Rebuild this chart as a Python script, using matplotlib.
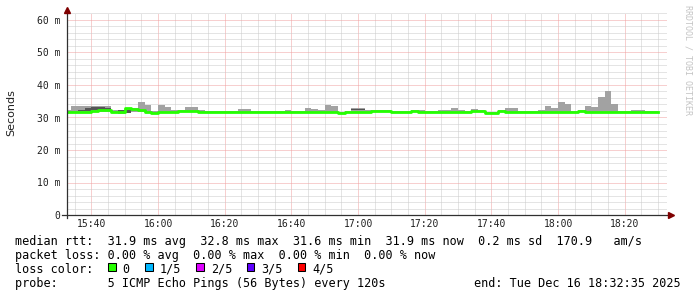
import numpy as np
import matplotlib.pyplot as plt
from matplotlib.patches import Rectangle
from matplotlib.ticker import FixedLocator, MultipleLocator

# --- data (2 min RRD steps starting 15:32) ---
first_bin = "15:32"
step_min = 2
view_start = "15:32:35"
view_end = "18:32:35"

median = [31.6, 31.6, 31.7, 31.8, 32.1, 32.2, 32.3, 31.8, 31.6, 32.8,
          32.7, 32.4, 31.7, 31.5, 31.6, 31.6, 31.8, 31.9, 32.1, 32.1,
          31.8, 31.7, 31.6, 31.6, 31.6, 31.6, 31.6, 31.6, 31.6, 31.6,
          31.6, 31.6, 31.6, 31.6, 31.6, 31.7, 31.7, 31.7, 31.6, 31.7,
          31.7, 31.5, 31.6, 31.7, 31.7, 31.8, 32.0, 32.0, 32.0, 31.7,
          31.7, 31.7, 32.0, 31.8, 31.7, 31.7, 31.8, 31.8, 31.8, 31.8,
          31.7, 32.0, 32.0, 31.5, 31.5, 32.0, 31.8, 31.8, 31.8, 31.8,
          31.8, 31.8, 31.8, 31.8, 31.8, 31.8, 31.8, 32.1, 31.8, 31.8,
          31.8, 31.8, 31.8, 31.8, 31.8, 31.8, 31.8, 31.8, 31.8]

smoke_hi = [32.3, 33.5, 33.5, 33.5, 33.5, 33.5, 33.5, 32.3, 32.3, 33.0,
            32.9, 34.9, 33.8, 31.9, 33.8, 33.2, 32.3, 32.3, 33.2, 33.2,
            32.2, 31.9, 31.9, 32.0, 31.9, 31.9, 32.6, 32.5, 31.9, 31.9,
            31.9, 32.1, 32.1, 32.3, 31.9, 32.1, 33.0, 32.6, 32.3, 34.0,
            33.5, 31.8, 32.0, 33.0, 33.0, 32.3, 32.3, 32.3, 32.2, 31.9,
            31.9, 31.9, 32.3, 32.3, 31.9, 31.9, 32.3, 32.3, 33.0, 32.3,
            31.9, 32.6, 32.2, 31.7, 31.7, 32.2, 33.0, 33.0, 32.0, 32.0,
            32.0, 32.4, 33.5, 33.0, 34.9, 34.2, 32.0, 32.3, 33.5, 33.2,
            36.3, 38.2, 34.2, 32.0, 32.0, 32.4, 32.4, 32.0, 32.0]

smoke_lo = [31.4, 31.4, 31.4, 31.5, 31.6, 31.7, 31.8, 31.5, 31.0, 31.3,
            31.8, 31.7, 31.5, 31.3, 31.4, 31.4, 31.5, 31.6, 31.7, 31.7,
            31.5, 31.4, 31.4, 31.4, 31.4, 31.4, 31.4, 31.4, 31.4, 31.4,
            31.4, 31.4, 31.4, 31.4, 31.4, 31.4, 31.4, 31.4, 31.4, 31.4,
            31.4, 31.3, 31.4, 31.4, 31.4, 31.5, 31.7, 31.7, 31.7, 31.5,
            31.5, 31.5, 31.7, 31.5, 31.5, 31.5, 31.5, 31.5, 31.5, 31.5,
            31.5, 31.7, 31.7, 31.3, 31.3, 31.7, 31.6, 31.6, 31.6, 31.6,
            31.6, 31.6, 31.6, 31.6, 31.6, 31.6, 31.6, 31.8, 31.6, 31.6,
            31.6, 31.6, 31.6, 31.6, 31.6, 31.6, 31.6, 31.6, 31.6]

# darker inner smoke, only a few steps
dark_bins = [2, 3, 4, 5, 6, 8, 9, 43, 44, 71]
dark_lo = [31.9, 31.9, 32.2, 32.3, 32.4, 31.7, 31.4, 32.3, 32.3, 32.2]
dark_hi = [32.2, 32.8, 33.3, 33.3, 32.8, 32.3, 32.4, 32.7, 32.7, 32.4]

x_tick_labels = ["15:40", "16:00", "16:20", "16:40", "17:00", "17:20",
                 "17:40", "18:00", "18:20"]
y_ticks = [0, 10, 20, 30, 40, 50, 60]
y_tick_labels = ["0", "10 m", "20 m", "30 m", "40 m", "50 m", "60 m"]

legend_lines = [
    "median rtt:  31.9 ms avg  32.8 ms max  31.6 ms min  31.9 ms now  0.2 ms sd  170.9   am/s",
    "packet loss: 0.00 % avg  0.00 % max  0.00 % min  0.00 % now",
    "loss color:",
    "probe:       5 ICMP Echo Pings (56 Bytes) every 120s",
]
loss_labels = ["0", "1/5", "2/5", "3/5", "4/5"]
loss_colors = ["#26ff00", "#00b8ff", "#dd00ff", "#5e00ff", "#ff0000"]
end_text = "end: Tue Dec 16 18:32:35 2025"


def to_min(s):
    p = [int(v) for v in s.split(":")]
    m = p[0] * 60 + p[1] + (p[2] / 60 if len(p) > 2 else 0)
    h0, m0 = [int(v) for v in first_bin.split(":")]
    return m - (h0 * 60 + m0)


W, H = 697, 297
MONO = "DejaVu Sans Mono"

fig = plt.figure(figsize=(W / 100, H / 100), dpi=100)
fig.patch.set_facecolor("white")

# plot area in pixels
px_l, px_r, px_b, px_t = 66.7, 666.7, 215.0, 12.7
ax = fig.add_axes([px_l / W, 1 - px_b / H, (px_r - px_l) / W, (px_b - px_t) / H])
ax.set_facecolor("white")

n = len(median)
edges = np.arange(n + 1) * step_min

ax.fill_between(edges, np.append(smoke_lo, smoke_lo[-1]),
                np.append(smoke_hi, smoke_hi[-1]),
                step="post", color="#a2a2a2", lw=0, zorder=2)

db = np.array(dark_bins)
ax.bar(edges[db], np.array(dark_hi) - np.array(dark_lo), bottom=dark_lo,
       width=step_min, align="edge", color="#555555", linewidth=0, zorder=3)

ax.step(edges, np.append(median, median[-1]), where="post",
        color=loss_colors[0], lw=2.0, zorder=4)

ax.set_xlim(to_min(view_start), to_min(view_end))
ax.set_ylim(0, 60 * (px_b - px_t) / (px_b - 20.0))

ax.xaxis.set_major_locator(FixedLocator([to_min(s) for s in x_tick_labels]))
ax.set_xticklabels(x_tick_labels)
ax.xaxis.set_minor_locator(FixedLocator(np.arange(3, 181, 5)))
ax.set_yticks(y_ticks)
ax.set_yticklabels(y_tick_labels)
ax.yaxis.set_minor_locator(MultipleLocator(2))

# dotted rrdtool grid
ax.set_axisbelow(True)
ax.grid(which="major", color="#f0a0a0", linestyle=(0, (1, 1)), lw=0.72)
ax.grid(which="minor", color="#cbcbcb", linestyle=(0, (1, 1)), lw=0.72)

ax.tick_params(which="both", length=0)
ax.tick_params(axis="x", pad=3.2, labelsize=7, colors="#202020")
ax.tick_params(axis="y", pad=4.6, labelsize=7, colors="#202020")
for lab in ax.get_xticklabels() + ax.get_yticklabels():
    lab.set_family(MONO)

for sp in ax.spines.values():
    sp.set_visible(False)

# axis lines with arrows (rrdtool style)
aw = px_r - px_l
ah = px_b - px_t
ax.plot([(62 - px_l) / aw, (670 - px_l) / aw], [0, 0], transform=ax.transAxes,
        color="#303030", lw=0.9, clip_on=False, zorder=5)
ax.plot([0, 0], [(px_b - 218) / ah, (px_b - 9) / ah], transform=ax.transAxes,
        color="#303030", lw=0.9, clip_on=False, zorder=5)
ax.plot([(670.5 - px_l) / aw], [0], marker=">", ms=4.2, color="#7f0000",
        transform=ax.transAxes, clip_on=False, zorder=6)
ax.plot([0], [(px_b - 10.5) / ah], marker="^", ms=4.2, color="#7f0000",
        transform=ax.transAxes, clip_on=False, zorder=6)

fig.text(11.7 / W, 1 - 113 / H, "Seconds", rotation=90, ha="center",
         va="center", fontsize=8, family="DejaVu Sans", color="#202020")
fig.text(688 / W, 1 - 60 / H, "RRDTOOL / TOBI OETIKER", rotation=270,
         ha="center", va="center", fontsize=6, family=MONO, color="#c4c4c4")

# legend
base = [245.2, 259.0, 272.6, 286.6]
for txt, yb in zip(legend_lines, base):
    fig.text(15.4 / W, 1 - yb / H, txt, ha="left", va="baseline",
             fontsize=8.5, family=MONO, color="black")
fig.text(680.5 / W, 1 - base[3] / H, end_text, ha="right", va="baseline",
         fontsize=8.5, family=MONO, color="black")

box_x = [108.3, 145.3, 196.3, 246.7, 298.0]
for bx, lab, col in zip(box_x, loss_labels, loss_colors):
    fig.patches.append(Rectangle((bx / W, 1 - 271 / H), 7.4 / W, 7.6 / H,
                                 transform=fig.transFigure, facecolor=col,
                                 edgecolor="black", lw=0.75))
    fig.text((bx + 14.4) / W, 1 - base[2] / H, lab, ha="left", va="baseline",
             fontsize=8.5, family=MONO, color="black")

fig.savefig("out.png", dpi=100, facecolor="white")
